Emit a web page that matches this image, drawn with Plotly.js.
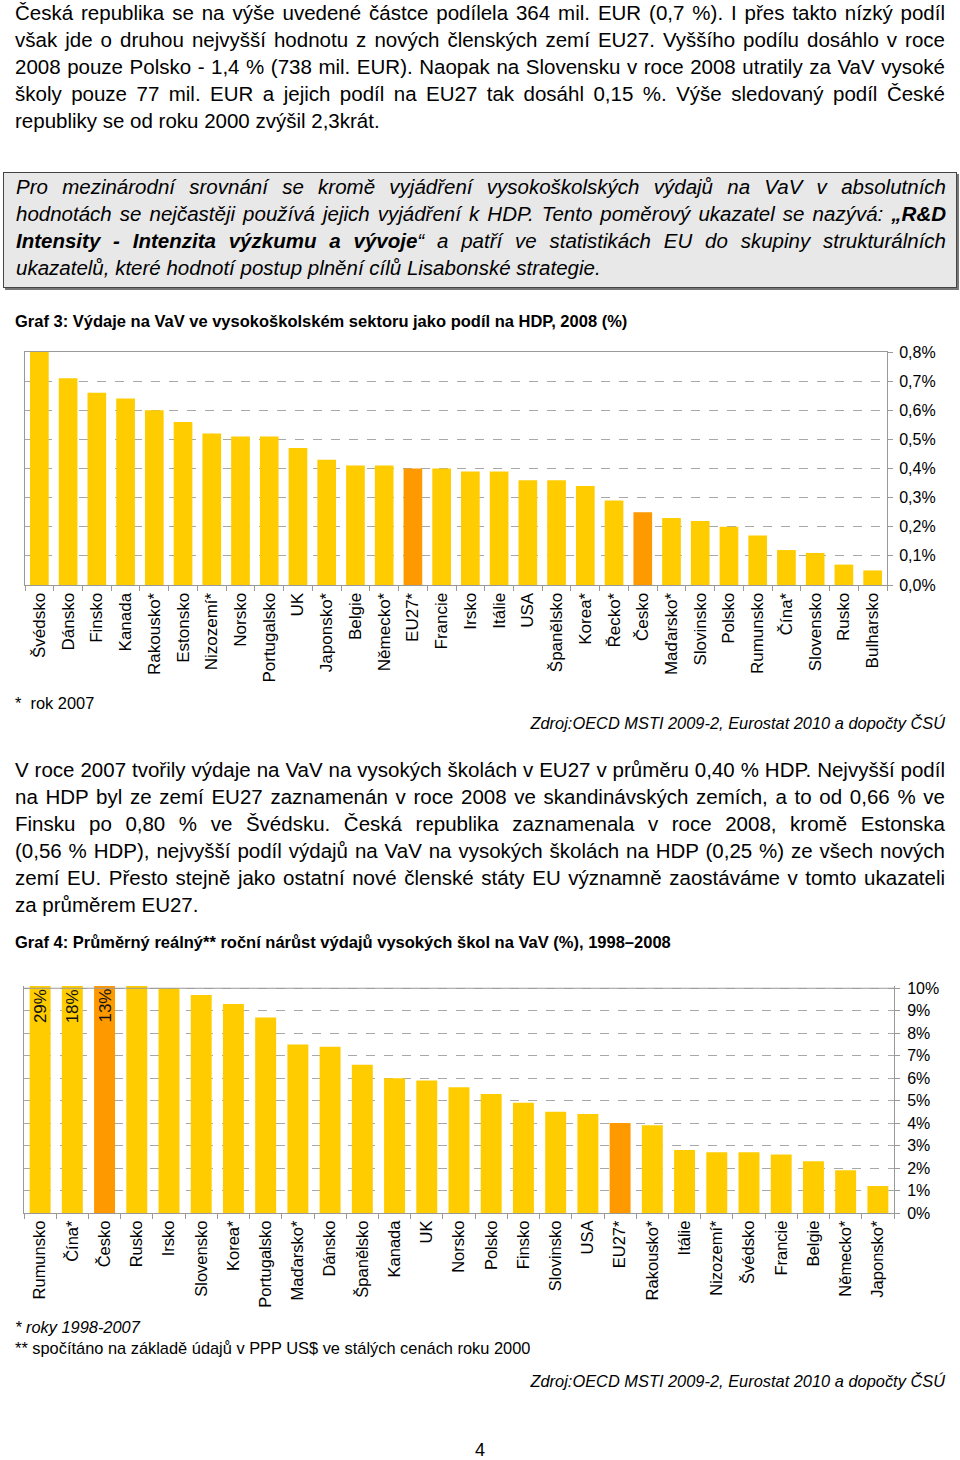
<!DOCTYPE html>
<html>
<head>
<meta charset="utf-8">
<script src="https://cdn.plot.ly/plotly-3.0.1.min.js"></script>
<style>
  html, body { margin:0; padding:0; background:#fff; }
  body { width:960px; height:1460px; position:relative; overflow:hidden;
         font-family:"Liberation Sans", Arial, sans-serif; color:#000; }
  .abs { position:absolute; }
  .para { left:15px; width:930px; font-size:20.5px; line-height:27px; }
  .ln { text-align:justify; text-align-last:justify; white-space:normal; }
  .ln.last { text-align-last:left; }
  .box { left:3px; top:172px; width:952px; height:114px; background:#e8e8e8;
         border:1px solid #444; box-shadow:2px 2px 0 #777; }
  .box .para { top:0px; left:12px; font-style:italic; }
  .title { left:15px; font-size:16.5px; font-weight:bold; line-height:20px; white-space:nowrap; }
  .note { font-size:16.4px; line-height:20px; white-space:nowrap; }
  .src { right:15px; font-size:16.4px; font-style:italic; line-height:20px; white-space:nowrap; }
</style>
</head>
<body>
<script>
// ---- Graf 3 data ----
var cats3 = ["Švédsko","Dánsko","Finsko","Kanada","Rakousko*","Estonsko","Nizozemí*","Norsko","Portugalsko","UK","Japonsko*","Belgie","Německo*","EU27*","Francie","Irsko","Itálie","USA","Španělsko","Korea*","Řecko*","Česko","Maďarsko*","Slovinsko","Polsko","Rumunsko","Čína*","Slovensko","Rusko","Bulharsko"];
var vals3 = [0.80,0.71,0.66,0.64,0.60,0.56,0.52,0.51,0.51,0.47,0.43,0.41,0.41,0.40,0.40,0.39,0.39,0.36,0.36,0.34,0.29,0.25,0.23,0.22,0.20,0.17,0.12,0.11,0.07,0.05];
var ticks3 = [0,0.1,0.2,0.3,0.4,0.5,0.6,0.7,0.8];
var tickLabels3 = ["0,0%","0,1%","0,2%","0,3%","0,4%","0,5%","0,6%","0,7%","0,8%"];

// ---- Graf 4 data ----
var cats4 = ["Rumunsko","Čína*","Česko","Rusko","Irsko","Slovensko","Korea*","Portugalsko","Maďarsko*","Dánsko","Španělsko","Kanada","UK","Norsko","Polsko","Finsko","Slovinsko","USA","EU27*","Rakousko*","Itálie","Nizozemí*","Švédsko","Francie","Belgie","Německo*","Japonsko*"];
var vals4 = [29,18,13,10.1,10.0,9.7,9.3,8.7,7.5,7.4,6.6,6.0,5.9,5.6,5.3,4.9,4.5,4.4,4.0,3.9,2.8,2.7,2.7,2.6,2.3,1.9,1.2];
var ticks4 = [0,1,2,3,4,5,6,7,8,9,10];
var tickLabels4 = ["0%","1%","2%","3%","4%","5%","6%","7%","8%","9%","10%"];

var highlight = ["Česko","EU27*"];
</script>

<div class="abs para" style="top:-1px">
  <div class="ln">Česká republika se na výše uvedené částce podílela 364 mil. EUR (0,7 %). I přes takto nízký podíl</div>
  <div class="ln">však jde o druhou nejvyšší hodnotu z nových členských zemí EU27. Vyššího podílu dosáhlo v roce</div>
  <div class="ln">2008 pouze Polsko - 1,4 % (738 mil. EUR). Naopak na Slovensku v roce 2008 utratily za VaV vysoké</div>
  <div class="ln">školy pouze 77 mil. EUR a jejich podíl na EU27 tak dosáhl 0,15 %. Výše sledovaný podíl České</div>
  <div class="ln last">republiky se od roku 2000 zvýšil 2,3krát.</div>
</div>

<div class="abs box">
  <div class="abs para" style="width:930px">
    <div class="ln">Pro mezinárodní srovnání se kromě vyjádření vysokoškolských výdajů na VaV v absolutních</div>
    <div class="ln">hodnotách se nejčastěji používá jejich vyjádření k HDP. Tento poměrový ukazatel se nazývá: <b>„R&amp;D</b></div>
    <div class="ln"><b>Intensity - Intenzita výzkumu a vývoje</b>“ a patří ve statistikách EU do skupiny strukturálních</div>
    <div class="ln last">ukazatelů, které hodnotí postup plnění cílů Lisabonské strategie.</div>
  </div>
</div>

<div class="abs title" style="top:311px">Graf 3: Výdaje na VaV ve vysokoškolském sektoru jako podíl na HDP, 2008 (%)</div>
<div id="g3" class="abs" style="left:0;top:340px;width:960px;height:350px"></div>

<div class="abs note" style="left:15px;top:693px">*&nbsp; rok 2007</div>
<div class="abs src" style="top:713px">Zdroj:OECD MSTI 2009-2, Eurostat 2010 a dopočty ČSÚ</div>

<div class="abs para" style="top:756px">
  <div class="ln">V roce 2007 tvořily výdaje na VaV na vysokých školách v EU27 v průměru 0,40 % HDP. Nejvyšší podíl</div>
  <div class="ln">na HDP byl ze zemí EU27 zaznamenán v roce 2008 ve skandinávských zemích, a to od 0,66 % ve</div>
  <div class="ln">Finsku po 0,80 % ve Švédsku. Česká republika zaznamenala v&nbsp;roce 2008, kromě Estonska</div>
  <div class="ln">(0,56 % HDP), nejvyšší podíl výdajů na VaV na vysokých školách na HDP (0,25 %) ze všech nových</div>
  <div class="ln">zemí EU. Přesto stejně jako ostatní nové členské státy EU významně zaostáváme v&nbsp;tomto ukazateli</div>
  <div class="ln last">za průměrem EU27.</div>
</div>

<div class="abs title" style="top:932px">Graf 4: Průměrný reálný** roční nárůst výdajů vysokých škol na VaV (%), 1998–2008</div>
<div id="g4" class="abs" style="left:0;top:960px;width:960px;height:350px"></div>

<div class="abs note" style="left:15px;top:1317px;font-style:italic">* roky 1998-2007</div>
<div class="abs note" style="left:15px;top:1338px">** spočítáno na základě údajů v PPP US$ ve stálých cenách roku 2000</div>
<div class="abs src" style="top:1371px">Zdroj:OECD MSTI 2009-2, Eurostat 2010 a dopočty ČSÚ</div>

<div class="abs" style="left:0;width:960px;top:1439px;text-align:center;font-size:18px;line-height:22px">4</div>

<script>
var FONT = "Liberation Sans, Arial, sans-serif";
var YEL = "#FFCC00", ORA = "#FF9900";
function colorsFor(cats){ return cats.map(function(c){ return highlight.indexOf(c) >= 0 ? ORA : YEL; }); }

function baseLayout(m){
  return {
    width:960, height:350, margin:m, paper_bgcolor:"#fff", plot_bgcolor:"#fff",
    separators:", ", showlegend:false, bargap:0.35,
    font:{family:FONT, color:"#000"}
  };
}

// Graf 3
var L3 = baseLayout({l:25, r:73, t:12, b:105, pad:0});
L3.xaxis = {type:"category", tickangle:-90, tickson:"boundaries", ticks:"outside", ticklen:5,
  tickcolor:"#999", showline:true, mirror:true, linecolor:"#999", linewidth:1, showgrid:false,
  tickfont:{size:17, family:FONT, color:"#000"}, fixedrange:true};
L3.yaxis = {side:"right", range:[ticks3[0], ticks3[ticks3.length-1]], tickmode:"array", tickvals:ticks3, ticktext:tickLabels3,
  ticks:"outside", ticklen:5, tickcolor:"#999", showline:true, mirror:true, linecolor:"#999", linewidth:1,
  showgrid:true, gridcolor:"#a8a8a8", griddash:"dash", gridwidth:1, zeroline:false, ticklabelstandoff:3,
  tickfont:{size:16, family:FONT, color:"#000"}, fixedrange:true};
Plotly.newPlot("g3", [{type:"bar", x:cats3, y:vals3, marker:{color:colorsFor(cats3)}, hoverinfo:"none"}],
  L3, {displayModeBar:false, staticPlot:true});

// Graf 4
var top4 = ticks4[ticks4.length-1];
var yMax4 = top4 * 1.01;
var L4 = baseLayout({l:24, r:66, t:26, b:97, pad:0});
L4.xaxis = {type:"category", tickangle:-90, tickson:"boundaries", ticks:"outside", ticklen:5,
  tickcolor:"#999", showline:true, linecolor:"#999", linewidth:1, showgrid:false,
  tickfont:{size:16.5, family:FONT, color:"#000"}, fixedrange:true};
L4.yaxis = {side:"right", range:[0, yMax4], tickmode:"array", tickvals:ticks4, ticktext:tickLabels4,
  ticks:"outside", ticklen:5, tickcolor:"#999", showline:true, mirror:true, linecolor:"#999", linewidth:1,
  showgrid:true, gridcolor:"#a8a8a8", griddash:"dash", gridwidth:1, zeroline:false, ticklabelstandoff:4,
  tickfont:{size:16, family:FONT, color:"#000"}, fixedrange:true};
L4.shapes = [{type:"line", xref:"paper", x0:0, x1:1, yref:"y", y0:top4, y1:top4, line:{color:"#999", width:1}}];
L4.annotations = [];
cats4.forEach(function(c, i){
  if (vals4[i] > yMax4 + 0.05) {
    L4.annotations.push({x:c, y:yMax4, xref:"x", yref:"y", text:String(vals4[i]) + "%", showarrow:false,
      textangle:-90, yanchor:"top", xanchor:"center", yshift:-1, font:{size:17, family:FONT, color:"#111"}});
  }
});
Plotly.newPlot("g4", [{type:"bar", x:cats4, y:vals4, marker:{color:colorsFor(cats4)}, hoverinfo:"none", cliponaxis:true}],
  L4, {displayModeBar:false, staticPlot:true});
</script>
</body>
</html>
